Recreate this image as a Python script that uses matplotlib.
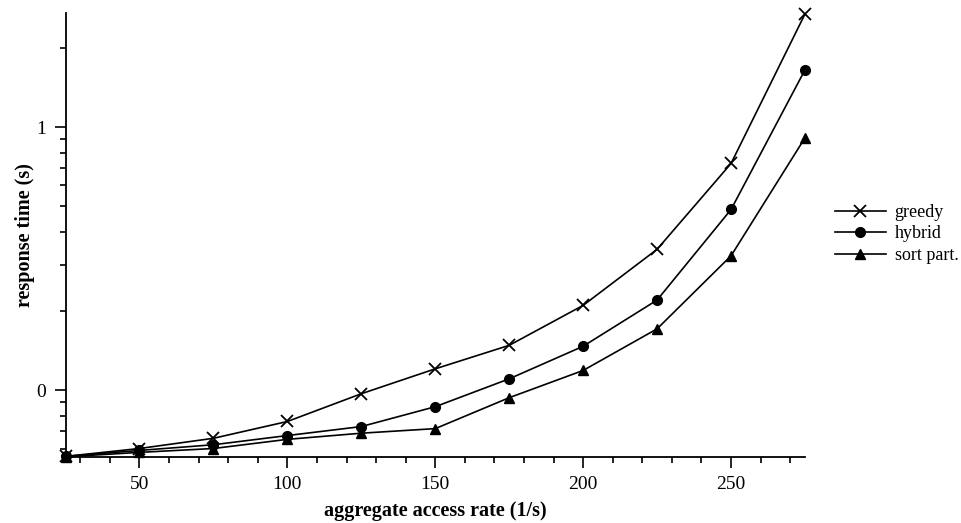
import matplotlib
matplotlib.use("Agg")
import matplotlib.pyplot as plt
import numpy as np
from matplotlib.ticker import FixedLocator, FuncFormatter, LogLocator

plt.rcParams['font.family'] = ['Liberation Serif', 'DejaVu Serif']

rate = [25, 50, 75, 100, 125, 150, 175, 200, 225, 250, 275]
greedy = [0.56, 0.60, 0.656, 0.76, 0.969, 1.205, 1.48, 2.10, 3.43, 7.27, 26.9]
hybrid = [0.56, 0.59, 0.62, 0.672, 0.727, 0.865, 1.104, 1.468, 2.20, 4.86, 16.5]
sort_part = [0.558, 0.58, 0.60, 0.65, 0.686, 0.714, 0.936, 1.188, 1.71, 3.24, 9.10]

series = [("greedy", greedy, "x", 8), ("hybrid", hybrid, "o", 7), ("sort part.", sort_part, "^", 7)]

fig = plt.figure(figsize=(9.62, 5.23), dpi=100)
ax = fig.add_axes([0.0681, 0.1262, 0.7687, 0.8495])

for name, vals, mk, ms in series:
    ax.plot(rate, vals, color='black', linewidth=1.2, marker=mk, markersize=ms,
            markeredgewidth=1.3 if mk == 'x' else 1.0, label=name, clip_on=False, zorder=3)

ax.set_yscale('log')
ax.set_xlim(25, 275)
ax.set_ylim(0.557, 27.2)

ax.yaxis.set_major_locator(FixedLocator([1, 10]))
ax.yaxis.set_major_formatter(FuncFormatter(lambda v, p: f"{int(round(np.log10(v)))}"))
ax.yaxis.set_minor_locator(LogLocator(base=10, subs=np.arange(2, 10)))
ax.yaxis.set_minor_formatter(FuncFormatter(lambda v, p: ""))

ax.set_xticks([50, 100, 150, 200, 250])
ax.set_xticks(np.arange(30, 276, 10), minor=True)

for s in ['top', 'right']:
    ax.spines[s].set_visible(False)
for s in ['left', 'bottom']:
    ax.spines[s].set_linewidth(1.3)

ax.tick_params(axis='both', which='major', direction='out', length=8, width=1.2, labelsize=14, pad=6)
ax.tick_params(axis='both', which='minor', direction='out', length=4.5, width=1.2)

ax.set_xlabel("aggregate access rate (1/s)", fontsize=14.5, fontweight='bold', labelpad=5.5)
ax.set_ylabel("response time (s)", fontsize=14.5, fontweight='bold', labelpad=1)

leg = ax.legend(loc='center left', bbox_to_anchor=(1.0405, 0.502), frameon=False, fontsize=13,
                handlelength=2.8, handletextpad=0.5, labelspacing=0.25, borderpad=0,
                borderaxespad=0)

fig.savefig("out.png", dpi=100)
